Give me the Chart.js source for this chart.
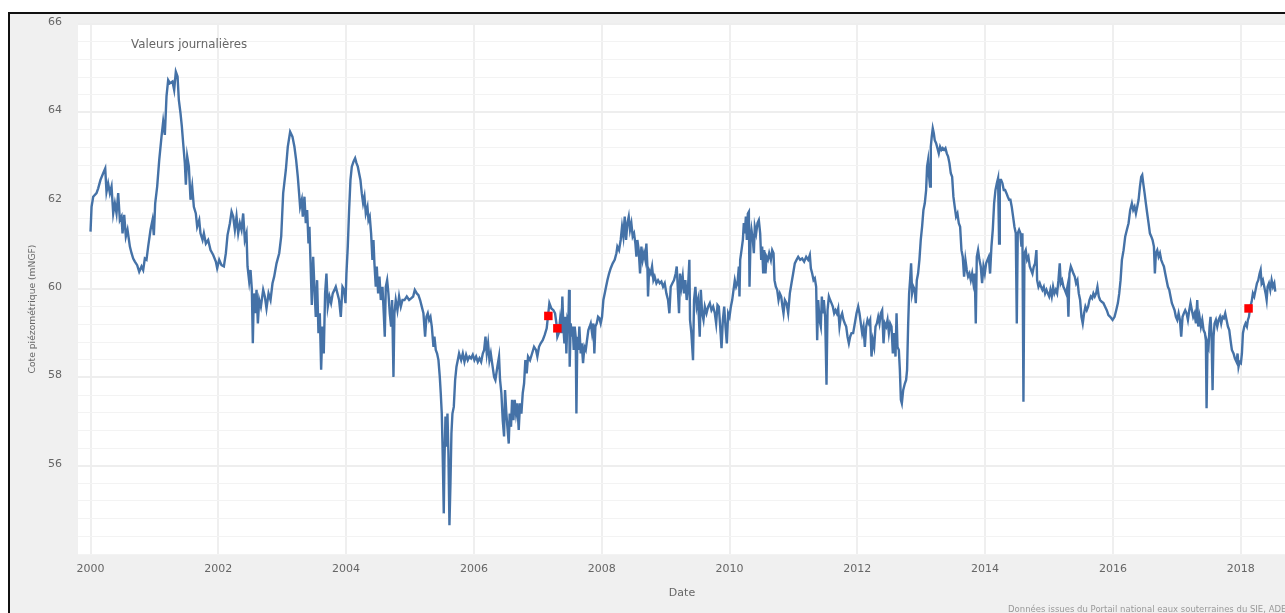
<!DOCTYPE html>
<html lang="fr">
<head>
<meta charset="utf-8">
<title>Cote piézométrique - valeurs journalières</title>
<script src="https://cdn.jsdelivr.net/npm/chart.js@4/dist/chart.umd.min.js"></script>
<style>
  html, body { margin: 0; padding: 0; background: #fff; overflow: hidden; }
  #frame {
    position: absolute; left: 8px; top: 12px;
    width: 1320px; height: 640px;
    border-top: 2px solid #111; border-left: 2px solid #111;
    background: #f0f0f0;
  }
  #chart { display: block; }
</style>
</head>
<body>
<div id="frame"><canvas id="chart" width="1300" height="610"></canvas></div>
<script>
// daily groundwater level, dates as decimal years
var obsDates = [
  2000.000, 2000.016, 2000.042, 2000.094, 2000.120, 2000.156, 2000.198, 2000.230, 2000.250, 2000.276,
  2000.303, 2000.329, 2000.355, 2000.381, 2000.407, 2000.433, 2000.459, 2000.485, 2000.501, 2000.527,
  2000.553, 2000.579, 2000.616, 2000.642, 2000.668, 2000.694, 2000.730, 2000.762, 2000.798, 2000.824,
  2000.850, 2000.876, 2000.902, 2000.939, 2000.970, 2000.991, 2001.012, 2001.043, 2001.075, 2001.111,
  2001.137, 2001.163, 2001.189, 2001.215, 2001.242, 2001.283, 2001.309, 2001.335, 2001.362, 2001.382,
  2001.408, 2001.429, 2001.450, 2001.476, 2001.492, 2001.513, 2001.539, 2001.565, 2001.591, 2001.617,
  2001.648, 2001.669, 2001.701, 2001.721, 2001.753, 2001.774, 2001.805, 2001.841, 2001.878, 2001.920,
  2001.961, 2001.982, 2002.014, 2002.050, 2002.087, 2002.118, 2002.144, 2002.181, 2002.207, 2002.233,
  2002.259, 2002.285, 2002.311, 2002.337, 2002.363, 2002.389, 2002.415, 2002.441, 2002.457, 2002.483,
  2002.504, 2002.525, 2002.540, 2002.556, 2002.577, 2002.598, 2002.619, 2002.640, 2002.666, 2002.702,
  2002.728, 2002.754, 2002.786, 2002.817, 2002.848, 2002.874, 2002.911, 2002.953, 2002.984, 2003.015,
  2003.057,
  2003.087, 2003.124, 2003.160, 2003.191, 2003.218, 2003.244, 2003.264, 2003.280, 2003.306, 2003.322,
  2003.348, 2003.369, 2003.390, 2003.411, 2003.426, 2003.442, 2003.463, 2003.484, 2003.504, 2003.525,
  2003.546, 2003.567, 2003.588, 2003.609, 2003.630, 2003.650, 2003.671, 2003.692, 2003.713, 2003.739,
  2003.765, 2003.791, 2003.817, 2003.838, 2003.864, 2003.890, 2003.917, 2003.943, 2003.969, 2003.990,
  2004.005, 2004.026, 2004.047, 2004.068, 2004.089, 2004.115, 2004.141, 2004.162, 2004.183, 2004.203,
  2004.224, 2004.245, 2004.266, 2004.287, 2004.308, 2004.334, 2004.350, 2004.370, 2004.391, 2004.412,
  2004.428, 2004.443, 2004.464, 2004.480, 2004.501, 2004.522, 2004.543, 2004.569, 2004.589, 2004.605,
  2004.621, 2004.642, 2004.662, 2004.683, 2004.704, 2004.720, 2004.741, 2004.756, 2004.777, 2004.803,
  2004.829, 2004.856, 2004.882, 2004.913, 2004.949, 2004.986, 2005.017, 2005.049, 2005.075, 2005.106,
  2005.132, 2005.158, 2005.184, 2005.210, 2005.236, 2005.257, 2005.278, 2005.299, 2005.320, 2005.341,
  2005.367, 2005.382, 2005.403, 2005.424, 2005.445, 2005.466, 2005.481, 2005.497, 2005.508, 2005.518,
  2005.528, 2005.539, 2005.555, 2005.570, 2005.586, 2005.601, 2005.617, 2005.633, 2005.648, 2005.664,
  2005.685, 2005.706, 2005.727, 2005.748, 2005.768, 2005.800, 2005.826, 2005.852, 2005.878, 2005.904,
  2005.930, 2005.956, 2005.982, 2006.008, 2006.034, 2006.061, 2006.087, 2006.113, 2006.139, 2006.160,
  2006.181, 2006.201, 2006.222, 2006.243, 2006.264, 2006.285, 2006.316,
  2006.336, 2006.367, 2006.393, 2006.409, 2006.430, 2006.451, 2006.472, 2006.487, 2006.508, 2006.524,
  2006.545, 2006.560, 2006.581, 2006.597, 2006.618, 2006.638, 2006.659, 2006.680, 2006.701, 2006.722,
  2006.743, 2006.764, 2006.785, 2006.805, 2006.826, 2006.847, 2006.878, 2006.910, 2006.941, 2006.972,
  2006.993, 2007.019, 2007.045, 2007.077, 2007.108, 2007.139, 2007.181, 2007.212, 2007.244, 2007.270,
  2007.291, 2007.306, 2007.327, 2007.348, 2007.369, 2007.384, 2007.400, 2007.416, 2007.431, 2007.447,
  2007.463, 2007.478, 2007.489, 2007.499, 2007.515, 2007.531, 2007.546, 2007.562, 2007.577, 2007.593,
  2007.604, 2007.619, 2007.635, 2007.650, 2007.671, 2007.687, 2007.708, 2007.729, 2007.750, 2007.770,
  2007.791, 2007.812, 2007.828, 2007.849, 2007.870, 2007.885, 2007.901, 2007.922, 2007.943, 2007.963,
  2007.984, 2008.005, 2008.026, 2008.047, 2008.068, 2008.089, 2008.115, 2008.141, 2008.172, 2008.203,
  2008.230, 2008.245, 2008.271, 2008.297, 2008.318, 2008.339, 2008.360, 2008.381, 2008.402, 2008.423,
  2008.443, 2008.464, 2008.485, 2008.506, 2008.527, 2008.543, 2008.558, 2008.579, 2008.600, 2008.621,
  2008.642, 2008.662, 2008.683, 2008.699, 2008.715, 2008.725, 2008.741, 2008.767, 2008.788, 2008.809,
  2008.829, 2008.856, 2008.882, 2008.908, 2008.934, 2008.960, 2008.986, 2009.012, 2009.038, 2009.059,
  2009.080, 2009.106, 2009.132, 2009.158, 2009.174, 2009.195, 2009.210, 2009.226, 2009.247, 2009.268,
  2009.288, 2009.309, 2009.330, 2009.351, 2009.372, 2009.382, 2009.403, 2009.429, 2009.445, 2009.466,
  2009.487, 2009.508, 2009.534,
  2009.551, 2009.572, 2009.593, 2009.614, 2009.640, 2009.666, 2009.692, 2009.718, 2009.744, 2009.770,
  2009.791, 2009.812, 2009.833, 2009.854, 2009.875, 2009.896, 2009.917, 2009.937, 2009.958, 2009.979,
  2010.000, 2010.021, 2010.042, 2010.063, 2010.083, 2010.104, 2010.125, 2010.146, 2010.156, 2010.167,
  2010.188, 2010.209, 2010.224, 2010.240, 2010.256, 2010.271, 2010.287, 2010.303, 2010.313, 2010.329,
  2010.344, 2010.365, 2010.381, 2010.396, 2010.417, 2010.438, 2010.459, 2010.480, 2010.496, 2010.511,
  2010.527, 2010.543, 2010.563, 2010.579, 2010.600, 2010.621, 2010.647, 2010.668, 2010.689, 2010.704,
  2010.725, 2010.746, 2010.767, 2010.788, 2010.809, 2010.829, 2010.845, 2010.866, 2010.892, 2010.918,
  2010.944, 2010.970, 2010.996, 2011.022, 2011.049, 2011.075, 2011.106, 2011.137, 2011.168, 2011.200,
  2011.231, 2011.257, 2011.273, 2011.294, 2011.315, 2011.335, 2011.356, 2011.372, 2011.388, 2011.408,
  2011.429, 2011.445, 2011.461, 2011.476, 2011.497, 2011.518, 2011.534, 2011.555, 2011.575, 2011.596,
  2011.617, 2011.638, 2011.659, 2011.680, 2011.701, 2011.721, 2011.742, 2011.763, 2011.784, 2011.805,
  2011.826, 2011.847, 2011.868, 2011.888, 2011.909, 2011.935, 2011.961, 2011.988, 2012.014, 2012.034,
  2012.055, 2012.076, 2012.097, 2012.118, 2012.139, 2012.160, 2012.181, 2012.201, 2012.222, 2012.243,
  2012.264, 2012.285, 2012.306, 2012.327, 2012.347, 2012.368, 2012.389, 2012.410, 2012.431, 2012.452,
  2012.473, 2012.494, 2012.514, 2012.535, 2012.556, 2012.577, 2012.598, 2012.614, 2012.629, 2012.650,
  2012.666, 2012.682, 2012.697, 2012.718, 2012.744,
  2012.764, 2012.779, 2012.795, 2012.811, 2012.826, 2012.842, 2012.858, 2012.878, 2012.899, 2012.915,
  2012.931, 2012.951, 2012.972, 2012.993, 2013.014, 2013.035, 2013.056, 2013.077, 2013.092, 2013.108,
  2013.124, 2013.139, 2013.150, 2013.165, 2013.181, 2013.197, 2013.212, 2013.233, 2013.254, 2013.275,
  2013.296, 2013.317, 2013.337, 2013.358, 2013.379, 2013.400, 2013.421, 2013.442, 2013.463, 2013.484,
  2013.504, 2013.525, 2013.546, 2013.567, 2013.588, 2013.609, 2013.630, 2013.650, 2013.671, 2013.692,
  2013.713, 2013.734, 2013.755, 2013.776, 2013.797, 2013.817, 2013.838, 2013.854, 2013.870, 2013.890,
  2013.911, 2013.932, 2013.953, 2013.974, 2013.995, 2014.016, 2014.037, 2014.057, 2014.078, 2014.099,
  2014.120, 2014.141, 2014.162, 2014.183, 2014.203, 2014.219, 2014.230, 2014.250, 2014.271, 2014.292,
  2014.313, 2014.334, 2014.355, 2014.376, 2014.396, 2014.417, 2014.438, 2014.459, 2014.480, 2014.496,
  2014.511, 2014.532, 2014.553, 2014.569, 2014.584, 2014.600, 2014.616, 2014.636, 2014.657, 2014.678,
  2014.699, 2014.720, 2014.741, 2014.762, 2014.782, 2014.803, 2014.814, 2014.835, 2014.856, 2014.876,
  2014.897, 2014.918, 2014.939, 2014.960, 2014.981, 2015.002, 2015.022, 2015.043, 2015.064, 2015.085,
  2015.106, 2015.127, 2015.148, 2015.168, 2015.184, 2015.205, 2015.226, 2015.247, 2015.268, 2015.288,
  2015.304, 2015.320, 2015.341, 2015.362, 2015.382, 2015.403, 2015.424, 2015.445, 2015.466, 2015.487,
  2015.508, 2015.528, 2015.549, 2015.570, 2015.591, 2015.612, 2015.633, 2015.654, 2015.675, 2015.695,
  2015.716, 2015.737, 2015.758, 2015.779, 2015.800, 2015.826, 2015.852, 2015.878, 2015.904, 2015.930,
  2015.958, 2015.995, 2016.026, 2016.052, 2016.078, 2016.099, 2016.120, 2016.141, 2016.167, 2016.193,
  2016.219, 2016.245, 2016.271, 2016.297, 2016.318, 2016.339, 2016.360, 2016.381, 2016.402, 2016.423,
  2016.443, 2016.459, 2016.475, 2016.496, 2016.516, 2016.537, 2016.558, 2016.579, 2016.600, 2016.621,
  2016.642, 2016.657, 2016.673, 2016.694, 2016.715, 2016.736, 2016.756, 2016.777, 2016.798, 2016.819,
  2016.840, 2016.861, 2016.882, 2016.902, 2016.923, 2016.944, 2016.965, 2016.986, 2017.007, 2017.028,
  2017.049, 2017.069, 2017.090, 2017.111, 2017.132, 2017.153, 2017.174, 2017.195, 2017.215, 2017.236,
  2017.257, 2017.278, 2017.299, 2017.320, 2017.335, 2017.356, 2017.377, 2017.398, 2017.419, 2017.440,
  2017.455, 2017.466, 2017.481, 2017.497, 2017.513, 2017.528, 2017.544, 2017.560, 2017.575, 2017.591,
  2017.612, 2017.633, 2017.654, 2017.675, 2017.695, 2017.716, 2017.737, 2017.758, 2017.779, 2017.800,
  2017.821, 2017.841, 2017.862, 2017.888, 2017.909, 2017.935, 2017.951, 2017.966, 2017.982, 2018.003,
  2018.019, 2018.035, 2018.056, 2018.076, 2018.097, 2018.113, 2018.129, 2018.150, 2018.171, 2018.191,
  2018.212, 2018.233, 2018.254, 2018.275, 2018.296, 2018.312, 2018.327, 2018.348, 2018.369, 2018.390,
  2018.406, 2018.421, 2018.442, 2018.463, 2018.484, 2018.505, 2018.526, 2018.541
];

var obsLevels = [
  61.30, 61.86, 62.09, 62.17, 62.28, 62.47, 62.62, 62.73, 62.20, 62.39,
  62.17, 62.32, 61.71, 61.94, 61.71, 62.17, 61.56, 61.64, 61.26, 61.68,
  61.19, 61.34, 60.96, 60.81, 60.69, 60.62, 60.54, 60.39, 60.51, 60.43,
  60.69, 60.66, 60.96, 61.34, 61.56, 61.22, 61.94, 62.32, 62.92, 63.45,
  63.79, 63.49, 64.36, 64.73, 64.66, 64.70, 64.51, 64.92, 64.81, 64.28,
  63.98, 63.68, 63.30, 62.85, 62.36, 63.00, 62.77, 62.02, 62.32, 61.86,
  61.71, 61.41, 61.56, 61.26, 61.11, 61.26, 61.03, 61.11, 60.88, 60.77,
  60.62, 60.47, 60.66, 60.54, 60.51, 60.81, 61.22, 61.49, 61.75, 61.64,
  61.34, 61.64, 61.26, 61.49, 61.34, 61.71, 61.11, 61.26, 60.51, 60.17,
  60.43, 59.98, 58.77, 59.90, 59.45, 59.98, 59.22, 59.75, 59.60, 59.98,
  59.83, 59.56, 59.90, 59.75, 60.13, 60.28, 60.58, 60.81, 61.19, 62.17,
  62.70,
  63.22, 63.56, 63.45, 63.22, 62.92, 62.54, 62.17, 61.86, 62.02, 61.64,
  62.09, 61.49, 61.79, 61.03, 61.41, 60.66, 59.64, 60.73, 60.05, 59.37,
  60.20, 59.00, 59.45, 58.17, 59.15, 58.54, 59.90, 60.35, 59.60, 59.83,
  59.68, 59.90, 59.98, 60.05, 59.90, 59.75, 59.37, 60.05, 59.98, 59.68,
  60.35, 60.96, 61.79, 62.47, 62.77, 62.88, 62.96, 62.85, 62.77, 62.62,
  62.47, 62.17, 61.94, 62.09, 61.71, 61.86, 61.56, 61.64, 61.26, 60.66,
  61.11, 60.58, 60.05, 60.51, 59.90, 60.28, 59.75, 60.05, 59.45, 58.92,
  60.05, 60.20, 59.90, 59.45, 59.15, 59.75, 58.01, 59.45, 59.75, 59.52,
  59.83, 59.60, 59.75, 59.75, 59.83, 59.75, 59.79, 59.83, 59.98, 59.90,
  59.86, 59.75, 59.60, 59.45, 58.92, 59.37, 59.45, 59.30, 59.37, 59.15,
  58.69, 58.92, 58.62, 58.54, 58.39, 58.01, 57.64, 57.18, 56.50, 55.75,
  54.92, 56.13, 57.11, 56.43, 57.18, 56.28, 54.65, 55.60, 56.73, 57.18,
  57.33, 57.94, 58.24, 58.39, 58.54, 58.39, 58.54, 58.35, 58.51, 58.39,
  58.47, 58.43, 58.51, 58.39, 58.47, 58.35, 58.43, 58.35, 58.54, 58.62,
  58.92, 58.54, 58.77, 58.39, 58.54, 58.32, 58.01,
  57.94, 58.24, 58.47, 57.94, 57.64, 57.03, 56.66, 57.71, 57.18, 56.88,
  56.50, 57.18, 56.88, 57.49, 57.03, 57.49, 57.18, 57.41, 56.81, 57.41,
  57.18, 57.64, 57.86, 58.39, 58.09, 58.47, 58.39, 58.54, 58.69, 58.62,
  58.47, 58.69, 58.77, 58.84, 58.96, 59.11, 59.68, 59.56, 59.52, 59.45,
  59.22, 58.92, 59.00, 59.30, 59.00, 59.83, 59.15, 58.77, 59.37, 58.54,
  59.30, 59.22, 59.98, 58.24, 59.22, 58.92, 59.15, 58.62, 59.15, 58.92,
  57.18, 58.92, 58.62, 59.15, 58.54, 58.77, 58.32, 58.69, 58.62, 58.84,
  59.07, 59.15, 59.22, 59.00, 59.22, 58.54, 59.15, 59.22, 59.37, 59.34,
  59.22, 59.37, 59.75, 59.90, 60.05, 60.20, 60.35, 60.47, 60.58, 60.66,
  60.81, 60.96, 60.88, 61.11, 61.41, 61.19, 61.64, 61.11, 61.49, 61.64,
  61.34, 61.49, 61.19, 61.26, 61.03, 60.73, 61.11, 60.88, 60.35, 60.96,
  60.66, 60.81, 60.66, 61.03, 60.51, 59.83, 60.43, 60.35, 60.51, 60.20,
  60.28, 60.13, 60.20, 60.13, 60.17, 60.05, 60.13, 59.90, 59.75, 59.45,
  60.05, 60.13, 60.20, 60.35, 60.51, 59.90, 59.45, 60.35, 60.05, 60.28,
  59.90, 60.20, 59.75, 60.05, 60.66, 59.30, 59.00, 58.39, 59.75, 60.05,
  59.60, 59.75, 58.92,
  59.98, 59.45, 59.30, 59.60, 59.45, 59.60, 59.68, 59.52, 59.60, 59.45,
  59.22, 59.64, 59.60, 59.15, 58.66, 59.30, 59.60, 59.15, 58.77, 59.45,
  59.37, 59.60, 59.75, 59.98, 60.20, 60.05, 60.13, 60.51, 59.83, 60.66,
  60.88, 61.11, 61.49, 61.26, 61.64, 61.11, 61.71, 61.75, 60.05, 61.11,
  61.34, 61.11, 60.81, 61.41, 61.26, 61.49, 61.56, 61.26, 60.66, 60.96,
  60.35, 60.88, 60.35, 60.73, 60.66, 60.81, 60.66, 60.88, 60.81, 60.20,
  60.05, 59.98, 59.75, 59.90, 59.83, 59.60, 59.45, 59.75, 59.68, 59.45,
  59.90, 60.13, 60.35, 60.58, 60.66, 60.73, 60.66, 60.69, 60.62, 60.73,
  60.66, 60.77, 60.47, 60.35, 60.20, 60.24, 60.05, 58.84, 59.75, 59.30,
  59.15, 59.83, 59.45, 59.75, 59.37, 57.83, 59.52, 59.83, 59.75, 59.68,
  59.60, 59.45, 59.52, 59.45, 59.56, 59.15, 59.37, 59.45, 59.30, 59.22,
  59.15, 58.92, 58.77, 58.92, 59.00, 59.00, 59.22, 59.45, 59.60, 59.45,
  59.22, 59.00, 59.15, 58.69, 59.15, 59.30, 59.22, 59.30, 58.47, 58.84,
  58.69, 59.15, 59.22, 59.37, 59.22, 59.45, 59.52, 58.77, 59.22, 59.15,
  59.30, 59.00, 59.22, 59.15, 58.54, 59.00, 58.47, 59.45, 58.69, 58.62,
  58.17, 57.49, 57.41, 57.71, 57.86,
  57.94, 58.17, 59.15, 59.90, 60.20, 60.58, 59.90, 60.05, 59.98, 59.68,
  60.20, 60.35, 60.66, 61.11, 61.41, 61.79, 61.94, 62.24, 62.77, 62.92,
  62.54, 62.32, 63.22, 63.45, 63.64, 63.53, 63.37, 63.30, 63.19, 63.07,
  63.22, 63.15, 63.19, 63.15, 63.19, 63.07, 63.00, 62.85, 62.62, 62.54,
  62.09, 61.86, 61.64, 61.71, 61.49, 61.41, 60.88, 60.73, 60.28, 60.66,
  60.43, 60.28, 60.35, 60.20, 60.35, 60.13, 60.35, 59.22, 60.73, 60.88,
  60.66, 60.51, 60.13, 60.51, 60.35, 60.58, 60.66, 60.73, 60.35, 60.96,
  61.34, 61.94, 62.24, 62.39, 62.51, 61.03, 62.47, 62.47, 62.39, 62.24,
  62.24, 62.17, 62.09, 62.02, 62.02, 61.86, 61.64, 61.41, 61.26, 59.22,
  61.26, 61.34, 61.26, 60.96, 61.26, 57.45, 60.81, 60.88, 60.66, 60.73,
  60.51, 60.43, 60.35, 60.51, 60.58, 60.88, 60.20, 60.05, 60.13, 60.05,
  59.98, 60.05, 59.90, 59.98, 59.90, 59.83, 59.98, 59.83, 60.05, 59.90,
  59.98, 59.90, 60.20, 60.58, 60.13, 60.20, 60.05, 59.98, 59.90, 60.05,
  59.37, 60.35, 60.51, 60.43, 60.35, 60.28, 60.13, 60.20, 59.90, 59.75,
  59.37, 59.22, 59.45, 59.60, 59.52, 59.60, 59.75, 59.83, 59.79, 59.90,
  59.83, 59.90, 60.05, 59.83, 59.75, 59.71, 59.68, 59.60, 59.52, 59.41,
  59.37, 59.30, 59.37, 59.52, 59.68, 59.90, 60.20, 60.66, 60.88, 61.19,
  61.34, 61.49, 61.79, 61.94, 61.79, 61.86, 61.71, 61.86, 62.02, 62.32,
  62.54, 62.58, 62.39, 62.17, 61.94, 61.71, 61.49, 61.26, 61.19, 61.11,
  60.96, 60.35, 60.81, 60.88, 60.73, 60.81, 60.66, 60.58, 60.51, 60.35,
  60.20, 60.05, 59.98, 59.83, 59.68, 59.60, 59.52, 59.37, 59.30, 59.45,
  59.30, 58.92, 59.37, 59.45, 59.52, 59.45, 59.30, 59.52, 59.68, 59.52,
  59.37, 59.45, 59.22, 59.75, 59.15, 59.37, 59.15, 59.30, 59.07, 59.00,
  58.84, 57.30, 58.77, 58.69, 59.15, 59.37, 58.92, 57.71, 58.92, 59.22,
  59.30, 59.15, 59.30, 59.37, 59.22, 59.37, 59.34, 59.45, 59.30, 59.15,
  59.07, 58.84, 58.62, 58.54, 58.43, 58.35, 58.54, 58.24, 58.35, 58.32,
  58.54, 59.00, 59.15, 59.22, 59.15, 59.30, 59.37, 59.60, 59.71, 59.90,
  59.83, 59.98, 60.13, 60.20, 60.35, 60.43, 60.13, 60.20, 60.05, 59.90,
  59.75, 60.05, 60.13, 59.98, 60.20, 60.05, 60.13, 59.94
];

// field measurements shown as red squares
var sampleDates = [2007.165, 2007.306, 2018.123];
var sampleLevels = [59.39, 59.11, 59.56];

var xTickYears = [2000, 2002, 2004, 2006, 2008, 2010, 2012, 2014, 2016, 2018];
var yTickLabels = [56, 58, 60, 62, 64, 66];
var yGridStep = 0.4;

var yGrid = [];
for (var i = 0; i <= 30; i++) {
  yGrid.push(Math.round((54 + i * yGridStep) * 10) / 10);
}

var lineData = obsDates.map(function (d, i) { return { x: d, y: obsLevels[i] }; });
var sampleData = sampleDates.map(function (d, i) { return { x: d, y: sampleLevels[i] }; });

Chart.defaults.font.family = "'DejaVu Sans', Verdana, sans-serif";
Chart.defaults.color = '#666';

// white plot background, in-plot caption, rotated axis title and source line
var decor = {
  id: 'decor',
  beforeDraw: function (chart) {
    var a = chart.chartArea, ctx = chart.ctx;
    ctx.save();
    ctx.fillStyle = '#ffffff';
    ctx.fillRect(a.left, a.top, a.right - a.left, a.bottom - a.top);
    ctx.restore();
  },
  afterDraw: function (chart) {
    var ctx = chart.ctx;
    ctx.save();
    ctx.fillStyle = '#666';
    ctx.font = "11.8px 'DejaVu Sans'";
    ctx.textAlign = 'left';
    ctx.textBaseline = 'middle';
    ctx.fillText('Valeurs journalières', 121, 31);

    ctx.translate(23, 295);
    ctx.rotate(-Math.PI / 2);
    ctx.textAlign = 'center';
    ctx.font = "9.2px 'DejaVu Sans'";
    ctx.fillText('Cote piézométrique (mNGF)', 0, 0);
    ctx.restore();

    ctx.save();
    ctx.fillStyle = '#999';
    ctx.font = "8.5px 'DejaVu Sans'";
    ctx.textAlign = 'left';
    ctx.textBaseline = 'middle';
    ctx.fillText('Données issues du Portail national eaux souterraines du SIE, ADES', 998, 596);
    ctx.restore();
  }
};

// drop the automatic label overhang so the plot box sits where the padding says
function noOverhang(scale) {
  scale.paddingTop = 0;
  scale.paddingBottom = 0;
  scale.paddingLeft = 0;
  scale.paddingRight = 0;
}

new Chart(document.getElementById('chart'), {
  type: 'line',
  data: {
    datasets: [{
      label: 'Mesures',
      data: sampleData,
      showLine: false,
      pointStyle: 'rect',
      pointRadius: 6,
      pointBackgroundColor: '#ff0000',
      pointBorderWidth: 0
    }, {
      label: 'Valeurs journalières',
      data: lineData,
      borderColor: '#4572a7',
      borderWidth: 2.4,
      pointRadius: 0,
      tension: 0
    }]
  },
  options: {
    responsive: false,
    animation: false,
    parsing: false,
    layout: { padding: { top: 10, left: 0, right: 24, bottom: 20 } },
    plugins: {
      legend: { display: false },
      tooltip: { enabled: false }
    },
    scales: {
      x: {
        type: 'linear',
        min: 1999.804,
        max: 2018.709,
        afterBuildTicks: function (scale) {
          scale.ticks = xTickYears.map(function (v) { return { value: v }; });
        },
        afterFit: function (scale) { scale.height = 50; noOverhang(scale); },
        border: { display: false },
        grid: { color: '#efefef', lineWidth: 2, drawTicks: false },
        ticks: {
          autoSkip: false,
          maxRotation: 0,
          padding: 9,
          color: '#666',
          font: { size: 11 },
          callback: function (v) { return String(v); }
        },
        title: {
          display: true,
          text: 'Date',
          color: '#666',
          font: { size: 11 },
          padding: { top: 0, bottom: 4 }
        }
      },
      y: {
        type: 'linear',
        min: 54,
        max: 66,
        afterBuildTicks: function (scale) {
          scale.ticks = yGrid.map(function (v) { return { value: v }; });
        },
        afterFit: function (scale) { scale.width = 68; noOverhang(scale); },
        border: { display: false },
        grid: {
          drawTicks: false,
          color: function (c) {
            return c.tick && yTickLabels.indexOf(c.tick.value) >= 0 ? '#eeeeee' : '#f3f3f3';
          },
          lineWidth: function (c) {
            return c.tick && yTickLabels.indexOf(c.tick.value) >= 0 ? 2 : 1;
          }
        },
        ticks: {
          autoSkip: false,
          padding: 16,
          labelOffset: -2,
          color: '#666',
          font: { size: 11 },
          callback: function (v) { return yTickLabels.indexOf(v) >= 0 ? String(v) : ''; }
        }
      }
    }
  },
  plugins: [decor]
});
</script>
</body>
</html>
